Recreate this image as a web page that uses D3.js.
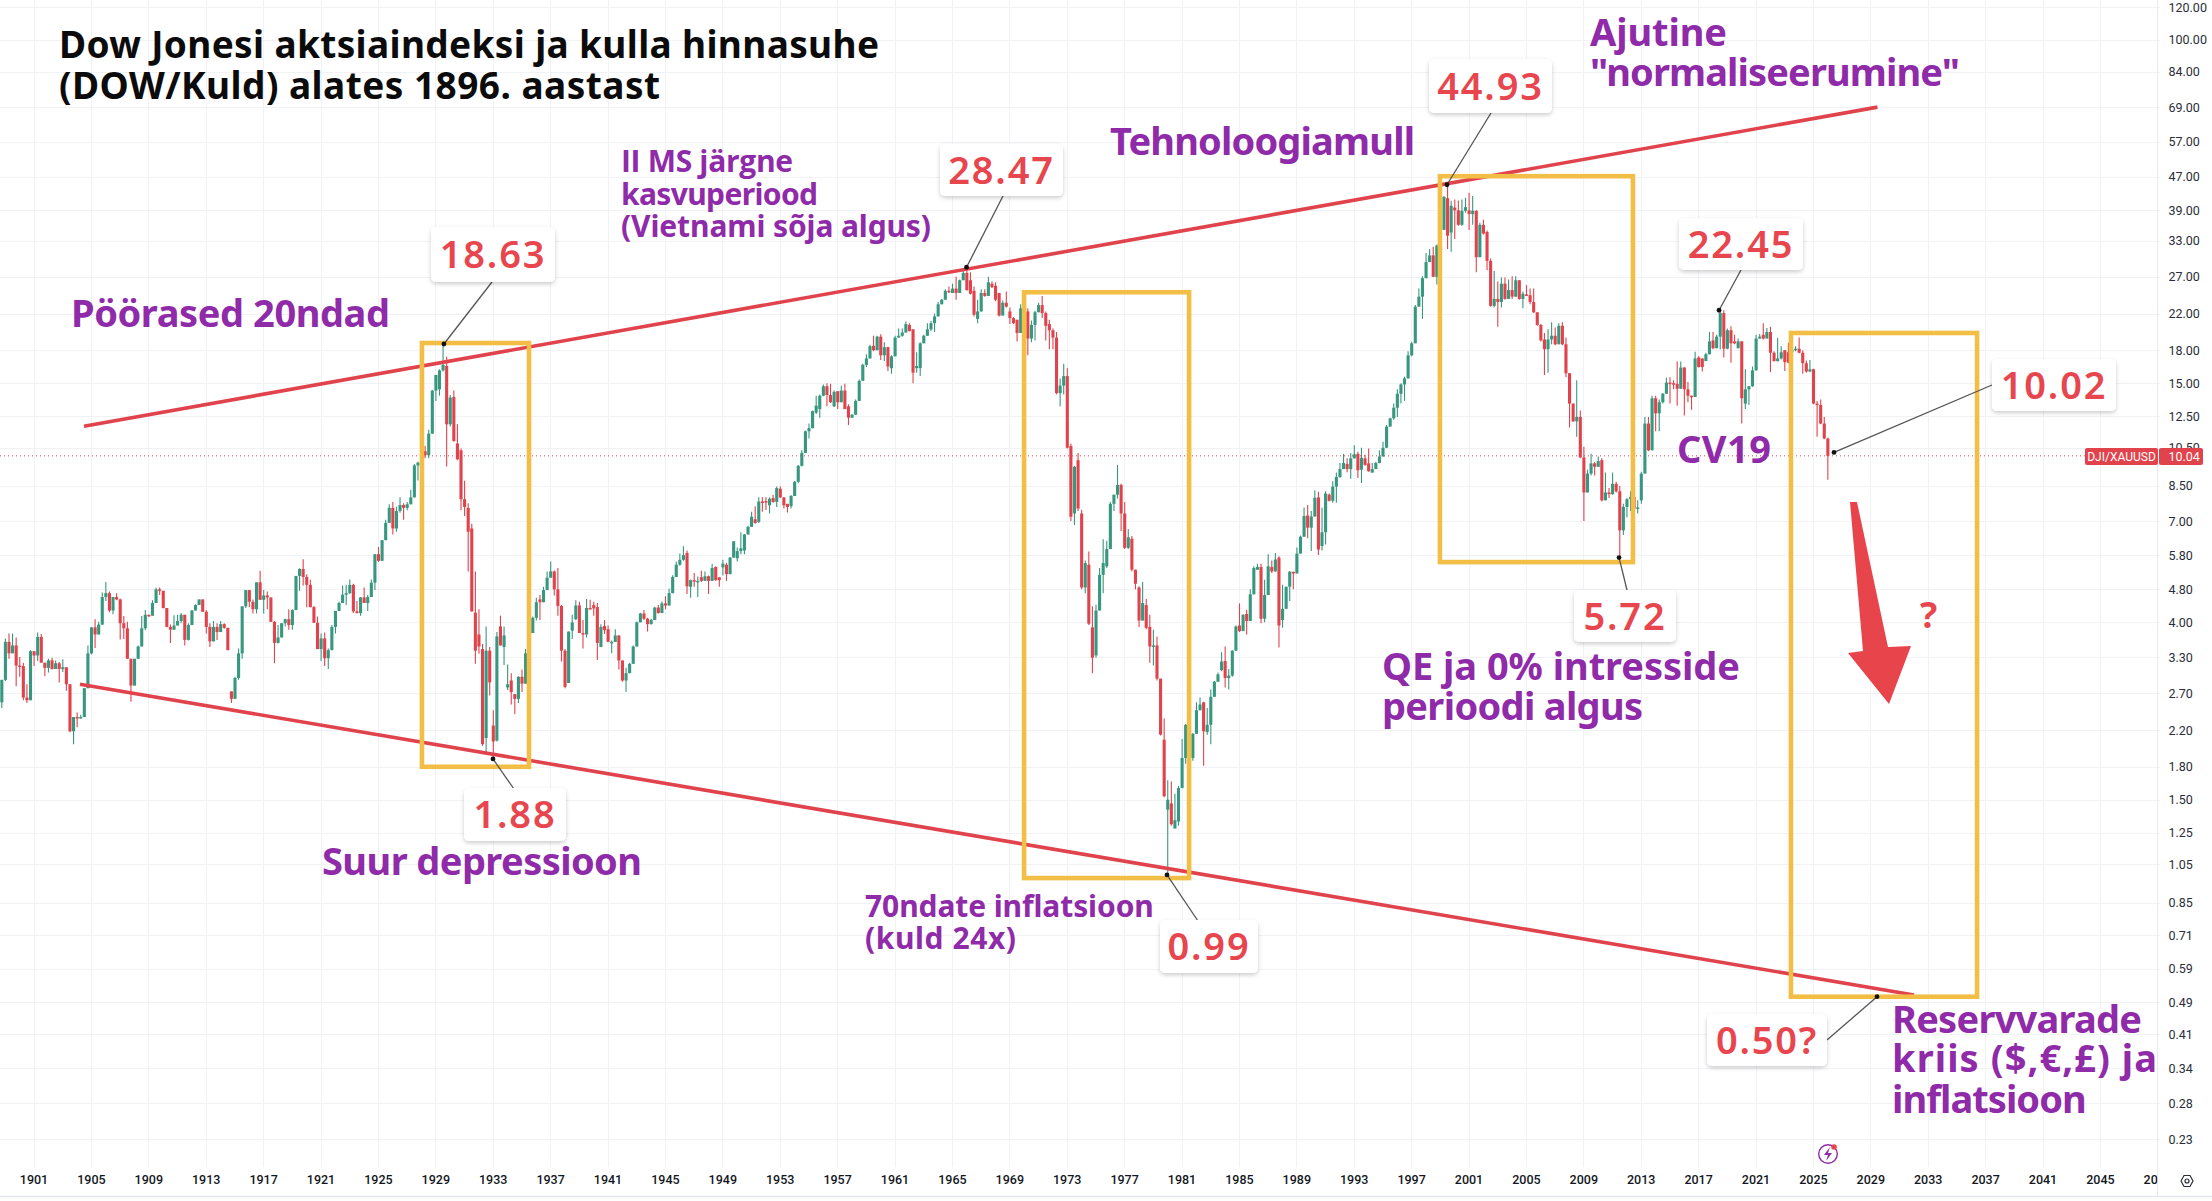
<!DOCTYPE html>
<html><head><meta charset="utf-8">
<script src="https://cdn.jsdelivr.net/npm/d3@7"></script>
<style>html,body{margin:0;background:#fff;overflow:hidden}svg{display:block}</style></head>
<body><svg id="c" width="2212" height="1201"></svg>
<script>
// Quarterly DOW/Gold candles, first bar Q4 1898
const firstBarYear = 1898.75;
const closes = [
2.91,3.59,3.37,3.52,3.15,3.14,2.64,2.60,3.41,3.33,
3.69,3.20,3.11,3.24,3.09,3.19,3.09,3.12,2.84,2.19,
2.37,2.36,2.37,2.78,3.37,3.89,3.74,3.95,4.60,4.70,
4.27,4.60,4.54,3.98,3.87,3.27,2.82,3.27,3.50,3.87,
4.17,4.15,4.45,4.80,4.76,4.33,3.90,3.84,3.93,4.03,
4.17,3.63,3.94,4.27,4.40,4.54,4.24,3.90,3.60,3.90,
3.79,3.96,3.88,3.43,2.62,2.94,3.37,4.37,4.78,4.48,
4.30,4.99,4.53,4.64,4.59,4.01,3.57,3.68,3.98,4.07,
3.94,4.28,5.17,5.37,5.14,4.92,4.35,3.99,3.45,3.66,
3.28,3.43,3.90,4.26,4.45,4.66,4.70,4.92,4.25,4.21,
4.59,4.45,4.60,4.98,5.83,5.62,6.30,6.93,7.53,6.72,
7.40,7.65,7.53,7.68,7.98,9.52,9.67,10.3,10.07,11.35,
14.4,15.7,16.1,16.6,11.95,13.85,10.9,9.85,7.9,7.57,
6.6,4.25,3.42,3.5,2.04,3.42,2.87,2.07,3.70,3.52,
3.72,2.84,2.72,2.62,2.96,2.85,3.37,3.77,4.1,4.47,
4.47,4.78,5.12,5.3,4.8,4.38,3.42,2.8,3.8,4.0,
4.39,3.77,3.74,4.33,4.32,4.32,3.57,3.9,3.83,3.59,
3.59,3.72,3.24,2.9,3.02,3.18,3.5,4.0,4.2,4.08,
3.96,4.05,4.34,4.21,4.44,4.39,4.7,5.14,5.5,5.65,
5.8,4.88,5.05,5.03,5.03,5.03,5.16,5.03,5.4,5.05,
5.05,5.53,5.22,5.72,6.26,5.93,6.02,6.5,6.78,7.17,
6.93,7.8,7.78,7.78,7.92,7.78,8.4,7.98,7.64,7.57,
8.04,8.7,9.5,10.2,11.5,11.7,12.85,13.25,14,14.75,
14.05,13.5,14.3,13.5,14.4,13,12.4,12.6,13.6,15.2,
16.6,17.2,18.4,18,19.4,17.5,18.3,16.45,17.4,19.3,
19.5,19.85,20.8,20,15.9,16.5,18.7,19.5,20.2,20.9,
21.7,23.2,23.8,25,24.8,25.3,24.7,26.5,27.6,25.1,
24.6,21.9,22.3,24.7,24.3,26.2,25.5,23.8,21.8,23.4,
22.9,21.5,20.9,19.8,22.7,21,19.2,20.7,22.2,23.1,
22.1,20.6,20.1,19.3,14.2,14.8,15.6,10.5,7.17,9.45,
7.5,4.85,5.55,3.97,3.29,4.27,5.2,5.55,6.0,7.7,
8.1,8.55,7.3,6.04,6.4,5.35,4.95,4.04,4.45,3.88,
3.5,3.52,2.93,2.15,1.53,1.5,1.31,1.34,1.6,1.89,
2.27,1.89,2.16,2.46,2.54,2.19,2.27,2.65,2.88,3.0,
3.22,2.94,2.98,3.42,3.91,3.81,4.17,4.03,4.67,5.4,
5.43,4.08,4.65,5.45,5.3,5.66,3.93,4.31,4.87,5.29,
5.24,5.85,6.42,7.2,6.75,7.18,7.96,5.98,6.58,8.15,
7.83,8.47,8.93,9.33,9.65,9.33,9.9,10.13,9.27,9.93,
9.55,9.22,9.33,9.65,10.0,10.5,11.8,12.35,13.1,14.15,
14.9,15.4,17.5,18.7,22.9,24.2,26.8,29.3,30.4,27,
32.1,35,42,33.9,40,39,36,38.9,39.7,38.2,
38.9,30.1,36,34.3,29.5,23,23.9,23.5,26,23.9,
25.1,24.2,26.5,23.9,24.6,24.4,23.5,22.2,20.7,19,
18.1,19.1,19.5,18.6,20.6,18.6,15.85,13.4,12.15,12.45,
9.95,8.2,9.1,9.63,9.45,9.75,7.85,8.2,8.12,8.6,
8.25,6.65,7.57,7.9,8,7.5,7.55,9.1,12,10.35,
13.8,12.7,13.5,14.15,15.05,15,14.95,14.55,16.35,14.5,
14,13.9,17.2,16.4,16.4,17.6,18.9,18.2,19.4,22.1,
18.15,20.1,18.7,18.7,18.9,13.8,14.5,14.75,16.1,19.2,
19.4,19.2,19.9,17.75,16.95,17.2,17.8,16.85,16.8,18.05,
18.15,17.75,16.75,16,16.2,13.4,13.35,12,11.05,10.04];
const highs = [
2.91,3.66,3.76,3.76,3.68,3.30,3.20,2.84,3.43,3.40,
3.78,3.75,3.20,3.27,3.29,3.24,3.21,3.26,3.12,2.84,
2.37,2.43,2.40,2.78,3.52,3.89,4.07,4.01,4.72,5.00,
4.74,4.60,4.70,4.56,4.14,4.01,3.27,3.27,3.52,4.14,
4.28,4.17,4.52,4.84,4.85,4.75,4.33,3.95,4.16,4.17,
4.21,4.16,3.98,4.28,4.42,4.54,4.54,4.28,3.98,4.03,
3.98,4.03,3.98,3.88,2.73,2.96,3.46,4.37,4.78,4.75,
4.54,4.99,5.32,4.78,4.74,4.59,4.03,3.94,3.98,4.08,
4.30,4.30,5.17,5.39,5.67,5.22,5.06,4.38,4.13,3.76,
3.78,3.46,3.94,4.26,4.48,4.90,4.92,5.07,4.95,4.50,
4.60,4.85,4.65,5.07,5.83,6.07,6.30,7.05,7.68,7.78,
7.58,7.98,7.73,7.78,8.32,9.60,9.72,10.36,10.6,11.6,
14.45,15.7,16.2,18.63,17.35,14.05,14.4,11.95,10.45,8.75,
7.72,6.9,5.3,4.3,3.55,3.91,3.49,2.46,3.79,4.15,
3.91,3.17,3.02,2.69,2.97,3.08,3.45,3.84,4.13,4.58,
4.65,4.87,5.3,5.6,5.33,5.4,4.4,3.45,3.8,4.17,
4.52,4.48,4.05,4.55,4.53,4.48,4.45,3.96,4.05,3.93,
3.62,3.85,3.72,3.22,3.11,3.2,3.52,4.02,4.22,4.28,
4.1,4.08,4.36,4.4,4.49,4.62,4.82,5.19,5.6,5.85,
6.09,5.95,5.07,5.25,5.15,5.32,5.3,5.18,5.52,5.45,
5.13,5.65,5.56,5.74,6.26,6.05,6.58,6.52,6.82,7.37,
7.6,7.98,7.98,7.98,7.98,8.08,8.47,8.47,7.98,7.7,
8.08,8.73,9.55,10.35,11.55,12,12.9,14,14.1,14.9,
15,14.95,14.4,14.35,14.8,14.95,13.35,12.65,13.7,15.3,
16.7,17.6,18.55,19.5,19.5,19.65,18.8,18.35,17.5,19.5,
20.3,20.3,21.1,20.9,20.2,17.8,18.8,19.6,20.9,21.15,
22.05,23.5,23.9,25.2,25.6,26,27,26.6,27.9,28.47,
27.7,25.6,23.8,25.2,25.2,27,26.3,26.2,24.7,23.7,
24.9,22.8,21.6,21.3,23.2,23.3,22.7,21.2,22.4,23.4,
24.3,22.3,21.3,20.3,19.9,15.4,16.7,16.3,10.75,9.5,
10.2,7.45,5.63,5.92,4.37,4.41,5.4,6.33,6.28,7.78,
8.1,9.55,8.6,7.78,6.7,6.45,5.35,4.88,5,4.55,
4.17,3.84,3.7,2.93,2.35,1.67,1.66,1.55,1.62,2.1,
2.28,2.36,2.17,2.57,2.64,2.58,2.49,2.76,2.89,3.03,
3.39,3.5,3.09,3.43,3.93,4.44,4.18,4.29,4.8,5.45,
5.53,5.53,5.06,5.83,5.63,5.87,5.76,4.92,4.87,5.31,
5.29,6.05,6.46,7.55,7.65,7.4,8.3,8.23,7.53,8.25,
8.15,8.72,9.15,9.65,10.15,9.9,10.2,10.65,10.27,10.5,
10.1,10.45,9.65,9.72,10.35,10.85,11.9,12.4,13.4,14.5,
15,15.55,17.9,18.85,23.1,25.3,27.1,30.8,31.5,31.9,
32.3,35.7,42.2,44.93,41.1,41.4,41.2,41.4,41.8,43,
42.2,39,36.4,37,34.9,29.9,27.9,26.3,26.9,26.9,
26.6,27.1,27.1,26.5,24.9,25.8,25.3,25.3,22.2,20.8,
19.8,20.2,21,20.4,20.9,21,19.3,15.85,13.4,15.25,
12.9,10.55,9.3,10.15,9.7,10,9.9,9.15,8.4,9.15,
8.7,8.5,7.7,7.95,8.25,8.3,7.85,9.2,12.45,12.45,
14,14,13.7,14.2,15.45,15.5,15.25,16.9,16.9,16.4,
15.1,14,17.85,17.4,17.2,17.75,19.9,19.9,19.6,22.3,
22.45,20.3,20.55,19.6,19.2,18.95,16.2,14.75,16.45,19.6,
19.7,20.9,20.35,20.5,17.9,19.25,18.4,18,18.75,18.6,
18.4,19.3,18,17,17.05,16.25,13.6,13.7,12.45,11.1];
const lows = [
2.49,2.89,3.27,3.37,2.81,2.96,2.60,2.56,2.64,3.14,
3.23,3.20,2.97,3.03,3.08,3.09,2.87,3.04,2.74,2.18,
2.04,2.24,2.35,2.37,2.80,3.35,3.47,3.74,3.94,4.50,
4.23,4.18,4.52,3.64,3.65,3.27,2.58,2.83,3.27,3.50,
3.83,4.12,4.15,4.45,4.65,4.32,3.89,3.57,3.84,3.93,
3.98,3.52,3.62,3.94,4.27,4.40,4.24,3.76,3.49,3.63,
3.63,3.79,3.86,3.43,2.56,2.62,2.91,3.27,4.33,4.35,
4.20,4.20,4.53,4.20,4.30,4.01,3.19,3.56,3.68,3.91,
3.84,3.84,4.28,4.76,4.90,4.35,4.35,3.99,3.45,3.23,
3.14,3.09,3.43,3.76,4.26,4.45,4.40,4.68,4.21,4.20,
4.15,4.45,4.26,4.60,4.78,5.59,5.75,6.30,6.93,6.50,
6.60,7.33,7.05,7.43,7.68,8.04,8.76,9.20,9.9,9.9,
11.35,13.6,14,16.0,9.47,11.8,10.85,9.8,7.43,7.2,
5.3,4.24,3.18,3.36,2.02,1.94,2.67,1.88,2.07,3.52,
3.16,2.75,2.54,2.41,2.56,2.72,2.85,3.37,3.77,4.04,
4.05,4.47,4.78,5.12,4.64,4.15,3.22,2.78,2.86,3.65,
4.05,3.77,3.46,3.68,4.30,4.15,3.25,3.57,3.75,3.59,
3.37,3.59,3.08,2.88,2.72,3.02,3.18,3.5,4.0,4.05,
3.8,3.95,4.05,4.2,4.21,4.3,4.39,4.7,5.14,5.47,
5.62,4.68,4.58,4.87,4.6,5.0,5.03,4.68,5.03,5.03,
4.87,5.18,5.03,5.22,5.72,5.6,5.83,5.83,6.5,6.78,
6.9,6.93,7.37,7.44,7.3,7.75,7.57,7.95,7.5,7.34,
7.5,8.04,8.63,9.46,10.2,11.05,11.7,12.65,12.4,13.95,
13.2,13.45,13.15,13,13.5,13,11.9,12.4,12.6,13.6,
15.2,16.4,17.2,17.9,18,17.05,16.95,16.05,15.8,17.4,
19.3,19.4,19.85,20,15,15.9,15.6,18.7,19.5,20,
19.9,21.7,23.2,23.8,24.7,24.7,23.8,24.7,26.5,25,
24.5,21.7,20.9,22.3,24.2,24.3,25.4,23.6,21.7,21.8,
22.8,20.8,20.8,18.9,19.8,19.6,17.5,18.8,19,22.2,
21.5,19,18.1,18.1,14.1,13.2,14.1,10.45,7,6.85,
7.4,4.8,4.7,3.94,3.02,3.29,4.27,4.7,5.4,6,
7.4,7.93,6.63,6,6,5.3,4.8,3.9,4.04,3.85,
3.2,3.15,2.9,2.14,1.52,0.99,1.3,1.28,1.3,1.82,
1.83,1.76,1.86,2.16,2.46,1.81,2.15,2.04,2.65,2.88,
3.05,2.79,2.76,2.96,3.42,3.79,3.81,3.74,4.03,4.67,
5.35,3.98,4.0,4.65,5.25,5.29,3.48,3.88,4.31,4.5,
4.8,5.24,5.85,6.42,6.37,5.93,7.18,5.8,5.95,6.15,
7.8,7.75,7.75,8.9,9.33,9.17,8.85,9.9,8.88,8.64,
9.5,9.2,9.15,9.33,9.63,10,10.5,11.8,12.25,12.45,
13.4,13.6,15.4,17.4,18.7,22.9,21.4,26.8,29.3,27,
25.9,32.1,35,31.5,31,33.3,35.8,35.8,38.5,35,
36,27.7,30.1,34.1,28,22.9,22.8,20.5,22.8,23.8,
23.9,23.9,24.2,23.8,22.7,24.3,23.2,22.1,20.6,18.9,
15.7,15.9,18.6,18.5,18.6,18.5,15.5,11.75,12.1,11.15,
9.9,7,8.2,9.0,9.0,9.45,7.8,7.85,7.95,8.1,
8.2,5.72,6.48,7.15,7.4,7.45,7.3,7.7,9.1,10.3,
11.3,11.5,11.5,13.4,14.15,13.4,14.5,13.25,14.55,12.55,
13.5,12.95,13.9,16.35,16,17.2,17.6,18.1,18.2,18.1,
17.3,18.1,16.8,18.6,18.2,12,13,13.3,14.7,16.1,
19.2,19.1,19.2,15.95,16.9,16.9,17.1,16.05,16.75,16.1,
17.9,17.7,15.8,15.9,15.95,13.35,11.15,11.95,11,8.8];
// A bar opens at the previous close, except these bars (index / open)
const gapIndex = [0,64,122,124,126,127,128,130,131,132,133,134,135,137,138,139,140,141,142,143,150,158,159,160,165,166,167,168,169,191,192,195,199,200,201,202,205,207,210,211,213,214,215,216,217,219,220,227,228,232,233,236,243,248,253,254,255,256,265,270,271,272,276,277,278,281,283,285,286,292,294,298,299,300,301,303,304,305,308,313,315,317,319,320,324,325,326,327,328,335,336,340,341,345,347,350,354,356,357,364,367,368,370,375,378,379,380,381,382,403,404,405,409,414,425,430,441,446,451,456,457,459,473,474,475,477,483,484,485,486,491,497,498,499,507];
const gapOpen = [2.57,2.73,14.5,16.5,13.9,10.75,10.35,7.53,6.72,4.22,3.74,3.45,2.11,2.26,2.08,3.91,3.49,2.79,2.9,2.69,4.54,2.86,3.82,4.07,4.40,4.35,3.49,3.92,3.85,5.87,4.87,5.13,5.43,5.13,5.42,5.5,5.7,5.95,7.07,6.97,7.82,7.64,7.95,7.78,8.37,7.7,7.6,12.75,13,13.2,14.35,13.2,18.45,16.3,20.7,20.2,16.3,16.3,24.7,26.5,25,21.4,26,25.7,24.7,22.3,21.3,23.1,22.3,20.8,19.3,10.6,7.3,9.8,7.3,5.5,3.89,3.33,5.45,7.3,6.35,4.85,4.4,3.9,2.09,1.42,1.47,1.28,1.33,2.57,2.18,3.07,3.23,3.93,4.19,5.35,5.43,5.72,4.05,7.22,7.98,6.1,8.1,9.6,10.15,9.3,9.9,9.63,9.15,41.7,34.5,39.6,39,34.6,24.5,19.1,9.95,9.8,8.25,7.5,7.85,12,17.3,17.2,16.95,19,18.9,18.2,18.9,13.4,19.6,18,17.8,17.8,13.3];

const yTickValues = [120,100,84,69,57,47,39,33,27,22,18,15,12.5,10.5,8.5,7,5.8,4.8,4,3.3,2.7,2.2,1.8,1.5,1.25,1.05,.85,.71,.59,.49,.41,.34,.28,.23];
const xTickYears = d3.range(1901,2050,4);
const lastPrice = 10.04;

const topLine = {years:[1904.52,2029.5], values:[11.83,69]};
const bottomLine = {years:[1904.24,2032.04], values:[2.84,0.51]};
const boxYears = [[1928.07,1935.53],[1970.03,1981.53],[1999.01,2012.46],[2023.47,2036.44]];
const boxValues = [[18.73,1.80],[24.8,.973],[47.1,5.58],[19.8,.505]];

const calloutText = ["18.63","1.88","28.47","0.99","44.93","5.72","22.45","10.02","0.50?"];
const calloutYear = [1929.6,1933.02,1966.02,1979.99,1999.5,2011.49,2018.46,2026.47,2029.47];
const calloutValue = [18.63,1.88,28.47,0.99,44.93,5.72,22.45,10.23,0.505];

// ---- layout ----
const svg = d3.select("#c");
const W=2212, plotR=2157.5, gridB=1167;
const x = d3.scaleLinear().domain([1901,2045]).range([33.5,33.5+144*14.35]);
const y = d3.scaleLog().domain([120,0.23]).range([7,1139]);
const GREEN="#37977f", RED="#e0434b", YEL="#f2be45", PUR="#8f2aa9", LRED="#e8464e";

svg.append("defs").append("clipPath").attr("id","xclip").append("rect").attr("x",0).attr("y",1168).attr("width",plotR).attr("height",30);
svg.append("defs").append("filter").attr("id","sh").attr("x","-10%").attr("y","-10%").attr("width","120%").attr("height","130%")
  .append("feDropShadow").attr("dx",0).attr("dy",2).attr("stdDeviation",2.2).attr("flood-color","#000").attr("flood-opacity",.2);

// grid
const grid = svg.append("g").attr("stroke","#f0f2f6").attr("stroke-width",1);
grid.selectAll(".h").data(yTickValues).join("line").attr("x1",0).attr("x2",plotR+3)
  .attr("y1",d=>Math.round(y(d))+.5).attr("y2",d=>Math.round(y(d))+.5);
grid.selectAll(".v").data(xTickYears.filter(d=>x(d)<plotR)).join("line").attr("y1",0).attr("y2",gridB)
  .attr("x1",d=>Math.round(x(d))+.5).attr("x2",d=>Math.round(x(d))+.5);
svg.append("line").attr("x1",plotR).attr("x2",plotR).attr("y1",0).attr("y2",1196).attr("stroke","#e9ebf0");
svg.append("line").attr("x1",0).attr("x2",W).attr("y1",1196.5).attr("y2",1196.5).attr("stroke","#e4e6eb").attr("stroke-width",1.5);

// axes
const xAxis = svg.append("g").attr("clip-path","url(#xclip)").append("g").attr("transform","translate(0,1169)")
  .call(d3.axisBottom(x).tickValues(xTickYears).tickSize(0).tickPadding(6).tickFormat(d3.format("d")));
xAxis.select(".domain").remove();
xAxis.selectAll("text").attr("font-family","Roboto").attr("font-size",12.5).attr("font-weight",500).attr("fill","#131722");
const yAxis = svg.append("g").attr("transform",`translate(${plotR},0)`)
  .call(d3.axisRight(y).tickValues(yTickValues).tickSize(0).tickPadding(11).tickFormat(d3.format(".2f")));
yAxis.select(".domain").remove();
yAxis.selectAll("text").attr("font-family","Roboto").attr("font-size",12.5).attr("fill","#2a2e39");

// price line
svg.append("line").attr("x1",0).attr("x2",2085).attr("y1",y(lastPrice)).attr("y2",y(lastPrice))
  .attr("stroke",RED).attr("stroke-width",1).attr("stroke-dasharray","1 3");

// candles
const gaps = new Map(gapIndex.map((k,j)=>[k,gapOpen[j]]));
const bars = closes.map((c,i)=>{
  const o = gaps.has(i)?gaps.get(i):closes[i-1];
  return {t:firstBarYear+i*.25,o,c,h:Math.max(highs[i],o,c),l:Math.min(lows[i],o,c)};
});
const gc = svg.append("g");
gc.selectAll("line").data(bars).join("line")
  .attr("x1",d=>x(d.t)+.6).attr("x2",d=>x(d.t)+.6).attr("y1",d=>y(d.h)).attr("y2",d=>y(d.l))
  .attr("stroke",d=>d.c>=d.o?GREEN:RED).attr("stroke-width",1.1);
gc.selectAll("rect").data(bars).join("rect")
  .attr("x",d=>x(d.t)+.6-1.55).attr("width",3.1)
  .attr("y",d=>Math.min(y(d.o),y(d.c))).attr("height",d=>Math.max(1.5,Math.abs(y(d.o)-y(d.c))))
  .attr("fill",d=>d.c>=d.o?GREEN:RED);

// trend lines
[topLine,bottomLine].forEach(l=>{
  svg.append("line").attr("x1",x(l.years[0])).attr("x2",x(l.years[1])).attr("y1",y(l.values[0])).attr("y2",y(l.values[1]))
    .attr("stroke",RED).attr("stroke-width",3.6);
});
// boxes
svg.append("g").selectAll("rect").data(boxYears).join("rect")
  .attr("x",d=>x(d[0])).attr("width",d=>x(d[1])-x(d[0]))
  .attr("y",(d,i)=>y(boxValues[i][0])).attr("height",(d,i)=>y(boxValues[i][1])-y(boxValues[i][0]))
  .attr("fill","none").attr("stroke",YEL).attr("stroke-width",4.6);

// callouts: [left, top, width, height, leaderX, leaderY]
const calloutBox = [[431,227,124,55,492,282],[464,788,102,53,514,789],[940,144,123,52,1003,196],[1160,920,98,53,1198,921],[1429,59,123,54,1491,113],[1574,590,102,52,1627,590],[1679,218,124,52,1741,270],[1992,359,124,52,1992,385],[1707,1014,120,52,1827,1040]];
const co = svg.append("g");
calloutText.forEach((t,i)=>{
  const b=calloutBox[i], px=x(calloutYear[i]), py=y(calloutValue[i]);
  co.append("line").attr("x1",px).attr("y1",py).attr("x2",b[4]).attr("y2",b[5]).attr("stroke","#555").attr("stroke-width",1.3);
  co.append("circle").attr("cx",px).attr("cy",py).attr("r",2.4).attr("fill","#111");
  co.append("rect").attr("x",b[0]).attr("y",b[1]).attr("width",b[2]).attr("height",b[3]).attr("rx",5).attr("fill","#fff").attr("filter","url(#sh)");
  co.append("text").attr("x",b[0]+b[2]/2).attr("y",b[1]+b[3]/2+13.5).attr("text-anchor","middle")
    .attr("font-family","'Noto Sans'").attr("font-weight",600).attr("font-size",38).attr("letter-spacing",1.8).attr("fill",LRED).text(t);
});

// arrow
svg.append("path").attr("fill","#e8444c").attr("d",d3.line()([[1850,502],[1857,502],[1888,647],[1911,646],[1889,704],[1848,653],[1863,651]])+"Z");

// texts: text, x, baseline, width, size, colour, family
const labels = [
 ["Dow Jonesi aktsiaindeksi ja kulla hinnasuhe",59,58,820,37,"#0b0b0b"],
 ["(DOW/Kuld) alates 1896. aastast",59,99,601,37,"#0b0b0b"],
 ["Pöörased 20ndad",71,327,319,38,PUR],
 ["II MS järgne",621,172,172,30,PUR,"'Open Sans'"],
 ["kasvuperiood",621,205,197,30,PUR],
 ["(Vietnami sõja algus)",621,237,310,30,PUR],
 ["Tehnoloogiamull",1110,155,305,38,PUR],
 ["Ajutine",1590,46,137,38,PUR],
 ["\"normaliseerumine\"",1590,86,370,38,PUR],
 ["CV19",1677,463,94,38,PUR],
 ["QE ja 0% intresside",1382,680,358,38,PUR],
 ["perioodi algus",1382,720,261,38,PUR],
 ["Suur depressioon",322,875,320,38,PUR],
 ["70ndate inflatsioon",865,917,289,30,PUR],
 ["(kuld 24x)",865,949,151,30,PUR],
 ["Reservvarade",1892,1033,250,38,PUR],
 ["kriis ($,€,£) ja",1892,1072,265,38,PUR],
 ["inflatsioon",1892,1113,195,38,PUR],
 ["?",1920,628,17,36,LRED]
];
labels.forEach(l=>{
  const t=svg.append("text").attr("x",l[1]).attr("y",l[2]).attr("font-family",l[6]||"'Noto Sans'").attr("font-weight",700)
    .attr("font-size",l[4]).attr("fill",l[5]).text(l[0]);
  const n=l[0].length;
  if(n>1){ const w=t.node().getComputedTextLength(); t.attr("letter-spacing",(l[3]-w)/(n-1)); }
});

// last price tag
const tag=svg.append("g").attr("font-family","Roboto").attr("font-size",12.5).attr("fill","#fff");
tag.append("rect").attr("x",2085).attr("y",448).attr("width",73).attr("height",17).attr("rx",2).attr("fill",RED);
tag.append("rect").attr("x",2159).attr("y",448).attr("width",44).attr("height",17).attr("rx",2).attr("fill",RED);
tag.append("text").attr("x",2121.5).attr("y",461).attr("text-anchor","middle").attr("font-size",12).text("DJI/XAUUSD");
tag.append("text").attr("x",2168.5).attr("y",461).text("10.04");

// small icons
const ic=svg.append("g");
ic.append("circle").attr("cx",1828).attr("cy",1154).attr("r",9.3).attr("fill","none").attr("stroke",PUR).attr("stroke-width",1.4);
ic.append("path").attr("fill",PUR).attr("d",d3.line()([[1830,1147],[1824,1155],[1828,1155],[1826,1161],[1832,1153],[1828,1153]])+"Z");
ic.append("circle").attr("cx",1834).attr("cy",1147).attr("r",2.8).attr("fill",LRED);
ic.append("path").attr("fill","none").attr("stroke","#2a2e39").attr("stroke-width",1.2)
  .attr("d",d3.line()([[2181,1181],[2184,1175.5],[2190,1175.5],[2193,1181],[2190,1186.5],[2184,1186.5]])+"Z");
ic.append("circle").attr("cx",2187).attr("cy",1181).attr("r",2).attr("fill","none").attr("stroke","#2a2e39").attr("stroke-width",1.2);
</script></body></html>
